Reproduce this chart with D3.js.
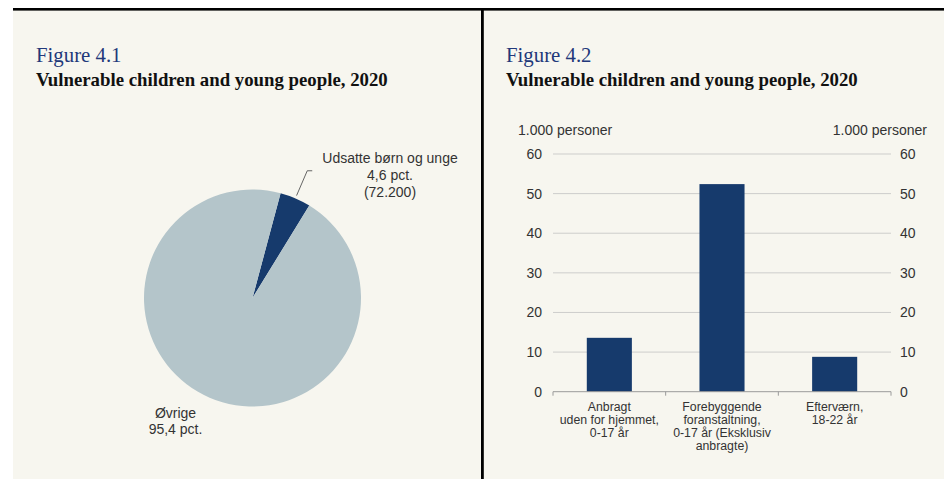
<!DOCTYPE html>
<html>
<head>
<meta charset="utf-8">
<script src="https://cdn.jsdelivr.net/npm/d3@7"></script>
<style>
  html, body { margin: 0; padding: 0; background: #ffffff; }
  svg { display: block; }
</style>
</head>
<body>
<svg id="chart" width="944" height="479"></svg>
<script>
// ---- Figure 4.1: share of vulnerable children and young people ----
const pieKeys = ["udsatte", "ovrige"];
const pieShares = [4.6, 95.4];            // pct.
const pieLabelLines = [
  ["Udsatte børn og unge", "4,6 pct.", "(72.200)"],
  ["Øvrige", "95,4 pct."]
];

// ---- Figure 4.2: vulnerable children and young people by measure ----
const barCategories = ["anbragt", "forebyggende", "eftervaern"];
const barValues = [13.6, 52.4, 8.8];      // 1.000 personer
const barLabelLines = [
  ["Anbragt", "uden for hjemmet,", "0-17 år"],
  ["Forebyggende", "foranstaltning,", "0-17 år (Eksklusiv", "anbragte)"],
  ["Efterværn,", "18-22 år"]
];
const yTicks = [0, 10, 20, 30, 40, 50, 60];
const yUnit = "1.000 personer";

const titles = [
  { fig: "Figure 4.1", sub: "Vulnerable children and young people, 2020" },
  { fig: "Figure 4.2", sub: "Vulnerable children and young people, 2020" }
];

const C = {
  paper: "#f7f6ef",
  rule: "#000000",
  navy: "#163a6c",
  pale: "#b4c5ca",
  figTitle: "#22387a",
  text: "#333333",
  grid: "#cdcdcb",
  axis: "#9a9a9a",
  leader: "#555555"
};
const sans = "'Liberation Sans', Arial, sans-serif";
const serif = "'Liberation Serif', 'Times New Roman', serif";

const svg = d3.select("#chart");

// page background and frame rules
svg.append("rect").attr("x", 13).attr("y", 9).attr("width", 931).attr("height", 470).attr("fill", C.paper);
svg.append("rect").attr("x", 13).attr("y", 8).attr("width", 931).attr("height", 2.6).attr("fill", C.rule);
svg.append("rect").attr("x", 481).attr("y", 8).attr("width", 2.8).attr("height", 471).attr("fill", C.rule);

// panel headings
const headX = [36, 506];
titles.forEach((t, i) => {
  svg.append("text").attr("x", headX[i]).attr("y", 62)
    .attr("font-family", serif).attr("font-size", 20.8).attr("fill", C.figTitle)
    .text(t.fig);
  svg.append("text").attr("x", headX[i]).attr("y", 85.5)
    .attr("font-family", serif).attr("font-size", 18.8).attr("font-weight", "bold").attr("fill", "#111")
    .text(t.sub);
});

// ---------- pie ----------
const pieCx = 252.5, pieCy = 298, pieR = 108.5;
const startAngle = 15 * Math.PI / 180;
const pie = d3.pie().sort(null).value(d => d.v)
  .startAngle(startAngle).endAngle(startAngle + 2 * Math.PI);
const arcs = pie(pieKeys.map((k, i) => ({ k, v: pieShares[i] })));
const arc = d3.arc().innerRadius(0).outerRadius(pieR);
const gPie = svg.append("g").attr("transform", `translate(${pieCx},${pieCy})`);
gPie.selectAll("path").data(arcs).join("path")
  .attr("d", arc)
  .attr("fill", d => d.data.k === "udsatte" ? C.navy : C.pale);

// leader from the small slice to its label
const small = arcs[0];
const mid = (small.startAngle + small.endAngle) / 2;
const at = r => [r * Math.sin(mid), -r * Math.cos(mid)];
const p0 = at(pieR + 3), p1 = at(pieR + 30);
gPie.append("polyline")
  .attr("points", [p0, p1, [p1[0] + 5, p1[1]]].map(p => p.join(",")).join(" "))
  .attr("fill", "none").attr("stroke", C.leader).attr("stroke-width", 0.9);

const pieLabelPos = [[390, 163], [175.5, 417.5]];
pieLabelLines.forEach((lines, i) => {
  const t = svg.append("text")
    .attr("font-family", sans).attr("font-size", 14).attr("fill", C.text)
    .attr("text-anchor", "middle");
  lines.forEach((s, j) => {
    t.append("tspan").attr("x", pieLabelPos[i][0]).attr("y", pieLabelPos[i][1] + j * 16.8).text(s);
  });
});

// ---------- bars ----------
const plot = { left: 553, right: 891, top: 154, bottom: 391.7 };
const x = d3.scaleBand().domain(barCategories)
  .range([plot.left, plot.right]).paddingInner(0.6).paddingOuter(0.3);
const y = d3.scaleLinear().domain([0, 60]).range([plot.bottom, plot.top]);

const gBar = svg.append("g");
// horizontal grid lines
gBar.append("g").selectAll("line").data(yTicks.filter(v => v > 0)).join("line")
  .attr("x1", plot.left).attr("x2", plot.right)
  .attr("y1", d => y(d)).attr("y2", d => y(d))
  .attr("stroke", C.grid).attr("stroke-width", 1);

// bars
gBar.append("g").selectAll("rect").data(barCategories).join("rect")
  .attr("x", d => x(d)).attr("width", x.bandwidth())
  .attr("y", (d, i) => y(barValues[i]))
  .attr("height", (d, i) => y(0) - y(barValues[i]))
  .attr("fill", C.navy);

// category axis with tick marks between categories
gBar.append("line").attr("x1", plot.left).attr("x2", plot.right)
  .attr("y1", y(0)).attr("y2", y(0)).attr("stroke", C.axis).attr("stroke-width", 1);
const step = x.step();
const dividers = d3.range(barCategories.length + 1).map(i => plot.left + i * step);
gBar.append("g").selectAll("line").data(dividers).join("line")
  .attr("x1", d => d).attr("x2", d => d)
  .attr("y1", y(0)).attr("y2", y(0) + 4)
  .attr("stroke", C.axis).attr("stroke-width", 1);

// value axes on both sides
const leftAxis = d3.axisLeft(y).tickValues(yTicks).tickSize(0).tickPadding(11);
const rightAxis = d3.axisRight(y).tickValues(yTicks).tickSize(0).tickPadding(9);
[[leftAxis, plot.left], [rightAxis, plot.right]].forEach(([ax, xx]) => {
  const g = gBar.append("g").attr("transform", `translate(${xx},0)`).call(ax);
  g.select(".domain").remove();
  g.selectAll("text").attr("font-family", sans).attr("font-size", 14).attr("fill", C.text);
});

// unit titles
gBar.append("text").attr("x", 518).attr("y", 135)
  .attr("font-family", sans).attr("font-size", 14).attr("fill", C.text).text(yUnit);
gBar.append("text").attr("x", 927).attr("y", 135).attr("text-anchor", "end")
  .attr("font-family", sans).attr("font-size", 14).attr("fill", C.text).text(yUnit);

// category labels
barCategories.forEach((c, i) => {
  const t = gBar.append("text").attr("font-family", sans).attr("font-size", 12.3)
    .attr("fill", C.text).attr("text-anchor", "middle");
  barLabelLines[i].forEach((s, j) => {
    t.append("tspan").attr("x", x(c) + x.bandwidth() / 2).attr("y", 410.5 + j * 13.1).text(s);
  });
});
</script>
</body>
</html>
